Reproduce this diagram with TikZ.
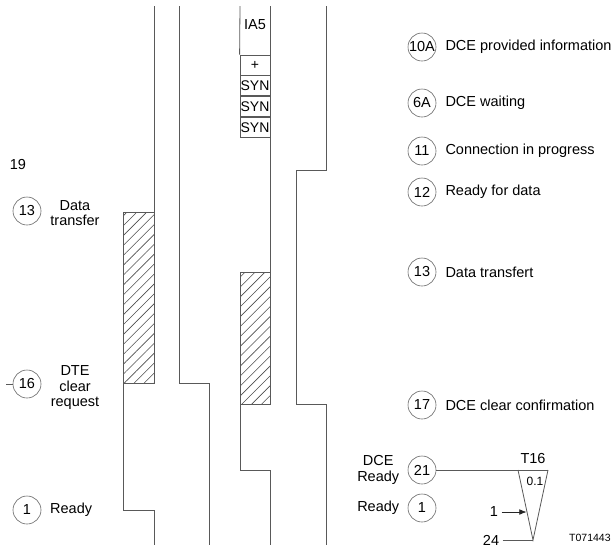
\documentclass[tikz,border=0pt]{standalone}
\usepackage{fontspec}
\setmainfont{Liberation Sans}
\usetikzlibrary{arrows.meta,patterns.meta,positioning}

\begin{document}
\begin{tikzpicture}[x=1pt, y=-1pt,
  font=\fontsize{14.5}{15.5}\selectfont,
  sig/.style={draw=black!65, line width=0.8pt},
  hatched/.style={sig, pattern={Lines[angle=45,distance=7pt,line width=0.6pt]},
    pattern color=black!70},
  state/.style={circle, draw=black!60, line width=0.6pt, minimum size=28pt,
    inner sep=0pt},
  cell/.style={draw=black!65, line width=0.8pt, minimum width=30pt,
    minimum height=20pt, inner sep=0pt, font=\fontsize{14}{14}\selectfont},
  lbl/.style={anchor=west, inner sep=0pt},
  arrow/.style={-{Latex[length=2.5mm,width=2mm]}, draw=black!85, line width=0.7pt}
]
  \useasboundingbox (0,0) rectangle (614,547);

  \draw[sig] (154,6) -- (154,212);
  \draw[hatched] (123,212) rectangle (154,383);
  \draw[sig] (123,383) -- (123,510) -- (154,510) -- (154,545);

  \draw[sig] (179,6) -- (179,383) -- (209,383) -- (209,545);

  \node (ia5) at (255,25) {IA5};
  \node[cell] (plus) at (255,65) {+};
  \node[cell, below=0pt of plus] (syn1) {SYN};
  \node[cell, below=0pt of syn1] (syn2) {SYN};
  \node[cell, below=0pt of syn2] (syn3) {SYN};
  \draw[sig] (240,6) -- (plus.north west);
  \draw[sig] (270,6) -- (270,272);
  \draw[hatched] (240,272) rectangle (270,404);
  \draw[sig] (240,404) -- (240,470) -- (270,470) -- (270,545);

  \draw[sig] (326,6) -- (326,170) -- (296,170) -- (296,404) -- (326,404) -- (326,545);

  \node (n19) at (18,165) {19};
  \node[state] (l13) at (27,211) {13};
  \node[align=center] (ldata) at (75,213) {Data\\transfer};
  \node[state] (l16) at (27,384) {16};
  \coordinate (tick) at (6,384);
  \draw[sig, line width=0.6pt] (tick) -- (l16);
  \node[align=center] (ldte) at (75,388) {DTE\\clear\\request};
  \node[state] (l1) at (27,510) {1};
  \node[lbl] (lready) at (50,510) {Ready};

  \node[state] (r10a) at (422,47) {10A};
  \node[lbl, right=9pt of r10a] (t10a) {DCE provided information};
  \node[state] (r6a) at (422,103) {6A};
  \node[lbl, right=9pt of r6a] (t6a) {DCE waiting};
  \node[state] (r11) at (422,151) {11};
  \node[lbl, right=9pt of r11] (t11) {Connection in progress};
  \node[state] (r12) at (422,192) {12};
  \node[lbl, right=9pt of r12] (t12) {Ready for data};
  \node[state] (r13) at (422,272) {13};
  \node[lbl, right=9pt of r13] (t13) {Data transfert};
  \node[state] (r17) at (422,405) {17};
  \node[lbl, right=9pt of r17] (t17) {DCE clear confirmation};
  \node[state] (r21) at (422,470) {21};
  \node[align=center, left=5pt of r21] (t21) {DCE\\Ready};
  \node[state] (r1) at (422,508) {1};
  \node[left=5pt of r1] (tr1) {Ready};

  \coordinate (tl) at (518,470);
  \coordinate (tr) at (548,470);
  \coordinate (tb) at (533,540);
  \draw[sig] (r21) -- (tr);
  \draw[sig] (tl) -- (tb) -- (tr);
  \node (t16) at (533,459) {T16};
  \node[font=\fontsize{12}{12}\selectfont] (t01) at (535,481) {0.1};
  \node (one) at (494,512) {1};
  \coordinate (hit) at (526.5,512);
  \draw[arrow] (one) -- (hit);
  \node (n24) at (491,540) {24};
  \draw[sig] (n24) -- (tb);

  \node[font=\fontsize{10.5}{11}\selectfont, anchor=west, inner sep=0pt] (fig) at (569,538) {T071443};
\end{tikzpicture}
\end{document}
